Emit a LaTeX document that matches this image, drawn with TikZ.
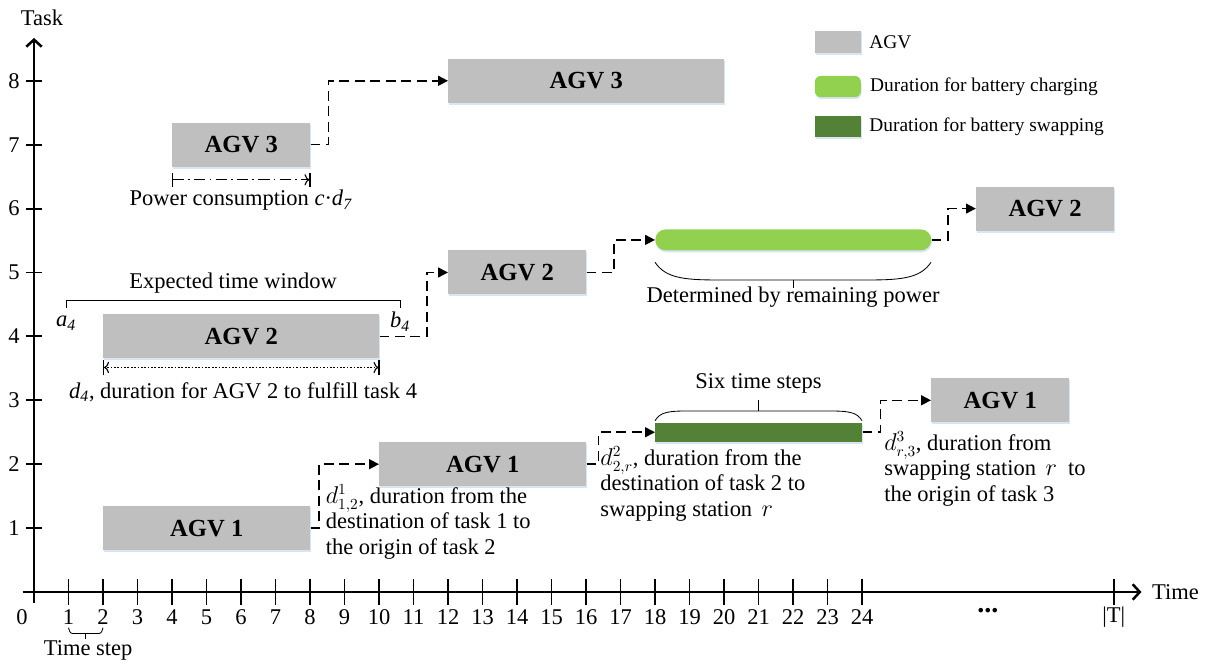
\documentclass[tikz,border=0pt]{standalone}
\usepackage{fontspec}
\setmainfont{Liberation Serif}
\usetikzlibrary{shapes,positioning,arrows.meta,calc,shadows}
\definecolor{agvgray}{HTML}{BFBFBF}
\definecolor{chargegreen}{HTML}{92D050}
\definecolor{swapgreen}{HTML}{538135}
\definecolor{shadowblue}{HTML}{DAE5F3}

\begin{document}
\begin{tikzpicture}[x=0.8625cm, y=1.5975cm]

    \tikzstyle{bar}=[inner sep=0pt, anchor=west, drop shadow={shadow xshift=0.5pt, shadow yshift=-1.4pt, fill=shadowblue, opacity=1}]
    \tikzstyle{agv}=[bar, fill=agvgray, minimum height=1.1cm, font=\fontsize{17.5}{20}\selectfont\bfseries]
    \tikzstyle{charge}=[bar, fill=chargegreen, minimum height=0.525cm, rounded corners=0.26cm]
    \tikzstyle{swap}=[bar, fill=swapgreen, minimum height=0.475cm]
    \tikzstyle{conn}=[line width=1.1pt, dash pattern=on 7pt off 4pt, ->]
    \tikzstyle{axis}=[line width=1.8pt, -{Straight Barb[length=5pt,width=11pt]}]
    \tikzstyle{tick}=[line width=1.4pt]
    \tikzstyle{lbl}=[inner sep=0pt, font=\fontsize{16}{17.5}\selectfont]
    \tikzstyle{note}=[lbl, align=left, anchor=west, font=\fontsize{16}{18.2}\selectfont]
    \tikzstyle{leg}=[inner sep=0pt, font=\fontsize{13.8}{16}\selectfont]
    \tikzstyle{brace}=[line width=0.6pt]
    \tikzstyle{span}=[line width=0.8pt, {Bar[width=10pt]To[length=3.5pt,width=8pt]}-{To[length=3.5pt,width=8pt]Bar[width=10pt]}]

    \useasboundingbox (-0.85cm,-1.775cm) rectangle (29.4cm,14.8cm);

    % axes
    \draw[axis] (-0.32,0) -- (32.1,0);
    \draw[axis] (0,-0.17) -- (0,8.67);
    \foreach \t in {1,...,24,31.3}
      \draw[tick] (\t,-0.2) -- (\t,0.2);
    \foreach \t in {1,...,24}
      \node[lbl] at (\t,-0.39) {\t};
    \foreach \k in {1,...,8} {
      \draw[tick] (-0.23,\k) -- (0.23,\k);
      \node[lbl] at (-0.58,\k) {\k};
    }
    \node[lbl] (zero) at (-0.35,-0.39) {0};
    \node[lbl, font=\fontsize{20}{20}\selectfont\bfseries] (dots) at (27.65,-0.35) {\raisebox{0.25em}{...}};
    \node[lbl] (bigT) at (31.3,-0.39) {|T|};
    \node[lbl, anchor=west] (timeLabel) at (32.4,0) {Time};
    \node[lbl] (taskLabel) at (0.23,8.98) {Task};

    % time step
    \draw[brace] (1,-0.56) .. controls (1.05,-0.65) .. (1.2,-0.65) -- (1.8,-0.65) .. controls (1.95,-0.65) .. (2,-0.56);
    \draw[brace] (1.5,-0.65) -- (1.5,-0.73);
    \node[lbl] (timeStep) at (1.57,-0.92) {Time step};

    \begin{scope}[>={Triangle[length=7pt,width=7pt]}]

      \node[agv, minimum width=6*0.8625cm] (agvOneA) at (2,1) {AGV 1};
      \node[agv, minimum width=6*0.8625cm] (agvOneB) at (10,2) {AGV 1};
      \node[swap, minimum width=6*0.8625cm] (swapBar) at (18,2.5) {};
      \node[agv, minimum width=4*0.8625cm] (agvOneC) at (26,3) {AGV 1};
      \node[agv, minimum width=8*0.8625cm] (agvTwoA) at (2,4) {AGV 2};
      \node[agv, minimum width=4*0.8625cm] (agvTwoB) at (12,5) {AGV 2};
      \node[charge, minimum width=8*0.8625cm] (chargeBar) at (18,5.51) {};
      \node[agv, minimum width=4*0.8625cm] (agvTwoC) at (27.3,6) {AGV 2};
      \node[agv, minimum width=4*0.8625cm] (agvThreeA) at (4,7) {AGV 3};
      \node[agv, minimum width=8*0.8625cm] (agvThreeB) at (12,8) {AGV 3};

      \draw[conn] (agvOneA.east) -- ++(0.25,0) |- (agvOneB.west);
      \draw[conn] (agvOneB.east) -- ++(0.35,0) |- (swapBar.west);
      \draw[conn] (swapBar.east) -- ++(0.52,0) |- (agvOneC.west);
      \draw[conn] (agvTwoA.east) -- ++(1.37,0) |- (agvTwoB.west);
      \draw[conn] (agvTwoB.east) -- ++(0.8,0) |- (chargeBar.west);
      \draw[conn] (chargeBar.east) -- ++(0.47,0) |- (agvTwoC.west);
      \draw[conn] (agvThreeA.east) -- ++(0.52,0) |- (agvThreeB.west);

    \end{scope}

    % power consumption
    \draw[span, {Bar[width=10pt]}-{To[length=3.5pt,width=8pt]Bar[width=10pt]}, dash pattern=on 8pt off 3pt on 1.2pt off 3pt] ([yshift=-0.32cm]agvThreeA.south west) -- ([yshift=-0.32cm]agvThreeA.south east);
    \node[lbl] (powerLabel) at (6,6.13) {Power consumption \textit{c}·\textit{d}\textsubscript{\textit{7}}};

    % time window of task 4
    \draw[brace] (0.93,4.44) -- (0.93,4.57) -- (10.61,4.57) -- (10.61,4.44);
    \node[lbl] (windowLabel) at (5.77,4.84) {Expected time window};
    \node[lbl] (aFour) at (0.93,4.21) {\textit{a}\textsubscript{\textit{4}}};
    \node[lbl] (bFour) at (10.61,4.23) {\textit{b}\textsubscript{\textit{4}}};
    \draw[span, dash pattern=on 1.2pt off 1.2pt] ([yshift=-0.22cm]agvTwoA.south west) -- ([yshift=-0.22cm]agvTwoA.south east);
    \node[lbl] (dFour) at (6.06,3.13) {\textit{d}\textsubscript{\textit{4}}, duration for AGV 2 to fulfill task 4};

    % braces over the bars
    \draw[brace] (18,2.68) .. controls (18.15,2.82) and (18.4,2.833) .. (19,2.833) -- (23,2.833) .. controls (23.6,2.833) and (23.85,2.82) .. (24,2.68);
    \draw[brace] (21,2.833) -- (21,3.0);
    \node[lbl] (sixSteps) at (21,3.27) {Six time steps};
    \draw[brace] (18,5.16) .. controls (18.3,4.92) and (18.8,4.883) .. (19.8,4.883) -- (24.2,4.883) .. controls (25.2,4.883) and (25.7,4.92) .. (26,5.16);
    \draw[brace] (22,4.883) -- (22,4.76);
    \node[lbl] (remainLabel) at (22,4.62) {Determined by remaining power};

    % notes
    \node[note] (dOneTwo) at (8.45,1.10) {$d^{1}_{1,2}$, duration from the\\destination of task 1 to\\the origin of task 2};
    \node[note] (dTwoR) at (16.41,1.69) {$d^{2}_{2,r}$, duration from the\\destination of task 2 to\\swapping station~\,$r$};
    \node[note] (dRThree) at (24.64,1.93) {$d^{3}_{r,3}$, duration from\\swapping station~\,$r$~ to\\the origin of task 3};

    % legend
    \node[bar, anchor=center, fill=agvgray, minimum width=1.15cm, minimum height=0.55cm] (legAgv) at (23.3,8.61) {};
    \node[leg, right=0.2cm of legAgv] (legAgvText) {AGV};
    \node[bar, anchor=center, fill=chargegreen, rounded corners=0.15cm, minimum width=1.15cm, minimum height=0.53cm] (legCharge) at (23.3,7.91) {};
    \node[leg, right=0.22cm of legCharge] (legChargeText) {Duration for battery charging};
    \node[bar, anchor=center, fill=swapgreen, minimum width=1.15cm, minimum height=0.53cm] (legSwap) at (23.3,7.285) {};
    \node[leg, right=0.2cm of legSwap] (legSwapText) {Duration for battery swapping};

\end{tikzpicture}
\end{document}
